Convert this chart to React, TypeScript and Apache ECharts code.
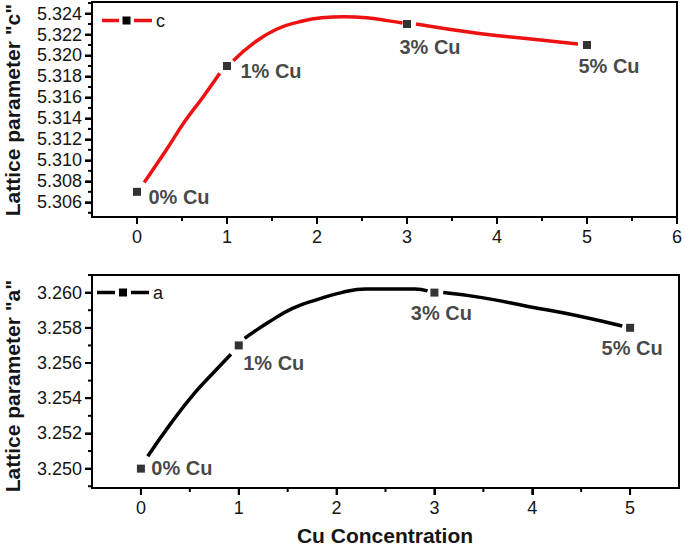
import React, { useEffect, useRef } from "react";
import * as echarts from "echarts";

// Measured data points
const concentration = [0, 1, 3, 5];
const latticeC = [5.307, 5.319, 5.323, 5.321];
const latticeA = [3.25, 3.257, 3.26, 3.258];
const pointLabels = ["0% Cu", "1% Cu", "3% Cu", "5% Cu"];

// Fitted curve (null = gap around markers)
const cFitX = [0.08, 0.31, 0.53, 0.73, 0.92, null, 1.07, 1.3, 1.55, 1.8, 2.05, 2.3, 2.55, 2.8, 2.95, null, 3.1, 3.8, 4.35, 4.9];
const cFitY = [5.3079, 5.3108, 5.3137, 5.316, 5.3183, null, 5.3195, 5.3212, 5.3225, 5.3232, 5.3236, 5.3237, 5.3236, 5.3233, 5.3231, null, 5.323, 5.3221, 5.3216, 5.3211];
const aFitX = [0.07, 0.31, 0.55, 0.75, 0.92, null, 1.06, 1.3, 1.55, 1.8, 2.05, 2.3, 2.55, 2.8, 2.93, null, 3.09, 3.5, 3.97, 4.45, 4.92];
const aFitY = [3.2507, 3.2526, 3.2543, 3.2555, 3.2565, null, 3.2574, 3.2583, 3.2591, 3.2596, 3.26, 3.2602, 3.2602, 3.2602, 3.2601, null, 3.26, 3.2597, 3.2592, 3.2587, 3.2581];

// Axis ticks
const xTicksTop = [0, 1, 2, 3, 4, 5, 6];
const xMinorTop = [0.5, 1.5, 2.5, 3.5, 4.5, 5.5];
const xTicksBottom = [0, 1, 2, 3, 4, 5];
const xMinorBottom = [0.5, 1.5, 2.5, 3.5, 4.5];
const yTicksTop = [5.306, 5.308, 5.31, 5.312, 5.314, 5.316, 5.318, 5.32, 5.322, 5.324];
const yMinorTop = [5.305, 5.307, 5.309, 5.311, 5.313, 5.315, 5.317, 5.319, 5.321, 5.323, 5.325];
const yTicksBottom = [3.25, 3.252, 3.254, 3.256, 3.258, 3.26];
const yMinorBottom = [3.249, 3.251, 3.253, 3.255, 3.257, 3.259, 3.261];

// axis ranges
const xRangeTop = [-0.5, 6];
const xRangeBottom = [-0.5, 5.5];
const yRangeTop = [5.3046, 5.3251];
const yRangeBottom = [3.2489, 3.261];

// label offsets (styling)
const labelOffsetTop = [[42, 5], [44, 5], [23, 23], [22, 21]];
const labelOffsetBottom = [[41, -1], [35, 18], [7, 20], [2, 20]];

const FONT = "'Liberation Sans', Arial, sans-serif";
const RED = "#ee1111";
const TXT = "#151515";

function pairs(xs: (number | null)[], ys: (number | null)[]) {
  return xs.map((x, i) => (x === null || ys[i] === null ? [null, null] : [x, ys[i]]));
}

export default function App() {
  const ref = useRef<HTMLDivElement>(null);
  useEffect(() => {
    if (!ref.current) return;
    const chart = echarts.init(ref.current, null, { renderer: "svg" });

    const line = { show: true, onZero: false, lineStyle: { color: "#000", width: 2 } };
    const mkX = (gridIndex: number, r: number[], ticks: number[]) => [
      {
        type: "value", gridIndex, min: r[0], max: r[1], position: "bottom",
        axisLine: line,
        axisTick: { show: true, inside: false, length: 7, customValues: ticks, lineStyle: { color: "#000", width: 2 } },
        axisLabel: { show: true, customValues: ticks, margin: 11, fontSize: 18, color: TXT, fontFamily: FONT, formatter: (v: number) => String(v) },
        splitLine: { show: false },
      },
      {
        type: "value", gridIndex, min: r[0], max: r[1], position: "top",
        axisLine: line, axisTick: { show: false }, axisLabel: { show: false }, splitLine: { show: false },
      },
    ];
    const mkY = (gridIndex: number, r: number[], ticks: number[]) => [
      {
        type: "value", gridIndex, min: r[0], max: r[1], position: "left",
        axisLine: line,
        axisTick: { show: true, inside: false, length: 7, customValues: ticks, lineStyle: { color: "#000", width: 2 } },
        axisLabel: { show: true, customValues: ticks, margin: 10, fontSize: 18, color: TXT, fontFamily: FONT, formatter: (v: number) => v.toFixed(3) },
        splitLine: { show: false },
      },
      {
        type: "value", gridIndex, min: r[0], max: r[1], position: "right",
        axisLine: line, axisTick: { show: false }, axisLabel: { show: false }, splitLine: { show: false },
      },
    ];

    const mkLabels = (offsets: number[][]) =>
      pointLabels.map((t, i) => ({
        show: true,
        formatter: t,
        position: "inside",
        offset: offsets[i],
        fontSize: 20,
        fontWeight: "bold",
        fontFamily: FONT,
        color: TXT,
      }));

    const topLabels = mkLabels(labelOffsetTop);
    const botLabels = mkLabels(labelOffsetBottom);

    chart.setOption({
      animation: false,
      grid: [
        { left: 92, top: 2, width: 587, height: 215, containLabel: false },
        { left: 92, top: 275, width: 587, height: 213, containLabel: false },
      ],
      xAxis: [...mkX(0, xRangeTop, xTicksTop), ...mkX(1, xRangeBottom, xTicksBottom)],
      yAxis: [...mkY(0, yRangeTop, yTicksTop), ...mkY(1, yRangeBottom, yTicksBottom)],
      series: [
        {
          type: "line", xAxisIndex: 0, yAxisIndex: 0, smooth: 0.5, showSymbol: false, connectNulls: false,
          lineStyle: { color: RED, width: 3.5 }, data: pairs(cFitX, cFitY), silent: true,
        },
        {
          type: "scatter", xAxisIndex: 0, yAxisIndex: 0, symbol: "rect", symbolSize: 8,
          itemStyle: { color: "#000" },
          data: concentration.map((x, i) => ({ value: [x, latticeC[i]], label: topLabels[i] })),
        },
        {
          type: "line", xAxisIndex: 2, yAxisIndex: 2, smooth: 0.5, showSymbol: false, connectNulls: false,
          lineStyle: { color: "#000", width: 3.5 }, data: pairs(aFitX, aFitY), silent: true,
        },
        {
          type: "scatter", xAxisIndex: 2, yAxisIndex: 2, symbol: "rect", symbolSize: 8,
          itemStyle: { color: "#000" },
          data: concentration.map((x, i) => ({ value: [x, latticeA[i]], label: botLabels[i] })),
        },
      ],
    });

    // tick marks, positioned through the axis scales
    const ticks: any[] = [];
    const toPx = (xi: number, yi: number, pt: number[]) => {
      try {
        return chart.convertToPixel({ xAxisIndex: xi, yAxisIndex: yi } as any, pt) as unknown as number[];
      } catch (e) {
        return null;
      }
    };
    const addX = (xi: number, vals: number[], yMin: number, len: number) =>
      vals.forEach((v) => {
        const p = toPx(xi, xi, [v, yMin]);
        if (!p || !isFinite(p[0]) || !isFinite(p[1])) return;
        ticks.push({ type: "line", shape: { x1: p[0], y1: p[1], x2: p[0], y2: p[1] + len }, style: { stroke: "#000", lineWidth: 2 } });
      });
    const addY = (yi: number, vals: number[], xMin: number, len: number) =>
      vals.forEach((v) => {
        const p = toPx(yi, yi, [xMin, v]);
        if (!p || !isFinite(p[0]) || !isFinite(p[1])) return;
        ticks.push({ type: "line", shape: { x1: p[0], y1: p[1], x2: p[0] - len, y2: p[1] }, style: { stroke: "#000", lineWidth: 2 } });
      });
    addX(0, xTicksTop, yRangeTop[0], 7);
    addX(0, xMinorTop, yRangeTop[0], 4);
    addY(0, yTicksTop, xRangeTop[0], 7);
    addY(0, yMinorTop, xRangeTop[0], 4);
    addX(2, xTicksBottom, yRangeBottom[0], 7);
    addX(2, xMinorBottom, yRangeBottom[0], 4);
    addY(2, yTicksBottom, xRangeBottom[0], 7);
    addY(2, yMinorBottom, xRangeBottom[0], 4);

    chart.setOption({
      graphic: [
        ...ticks,
        // top legend
        { type: "line", shape: { x1: 102, y1: 20.5, x2: 119, y2: 20.5 }, style: { stroke: RED, lineWidth: 3.5 } },
        { type: "rect", shape: { x: 122.5, y: 16.5, width: 8, height: 8 }, style: { fill: "#000" } },
        { type: "line", shape: { x1: 134, y1: 20.5, x2: 152, y2: 20.5 }, style: { stroke: RED, lineWidth: 3.5 } },
        { type: "text", x: 156, y: 21, style: { text: "c", font: `18px ${FONT}`, fill: TXT, textVerticalAlign: "middle" } },
        // bottom legend
        { type: "line", shape: { x1: 97, y1: 292.5, x2: 115, y2: 292.5 }, style: { stroke: "#000", lineWidth: 3.5 } },
        { type: "rect", shape: { x: 119, y: 288.5, width: 8, height: 8 }, style: { fill: "#000" } },
        { type: "line", shape: { x1: 131, y1: 292.5, x2: 149, y2: 292.5 }, style: { stroke: "#000", lineWidth: 3.5 } },
        { type: "text", x: 153, y: 292.5, style: { text: "a", font: `18px ${FONT}`, fill: TXT, textVerticalAlign: "middle" } },
        // axis titles
        { type: "text", x: 12, y: 110, rotation: Math.PI / 2, style: { text: 'Lattice parameter "c"', font: `bold 21px ${FONT}`, fill: TXT, textAlign: "center", textVerticalAlign: "middle" } },
        { type: "text", x: 12, y: 386, rotation: Math.PI / 2, style: { text: 'Lattice parameter "a"', font: `bold 21px ${FONT}`, fill: TXT, textAlign: "center", textVerticalAlign: "middle" } },
        { type: "text", x: 385, y: 535, style: { text: "Cu Concentration", font: `bold 21px ${FONT}`, fill: TXT, textAlign: "center", textVerticalAlign: "middle" } },
      ],
    });
    return () => chart.dispose();
  }, []);
  return <div ref={ref} style={{ position: "fixed", left: 0, top: 0, width: 685, height: 546, background: "#fff" }} />;
}
